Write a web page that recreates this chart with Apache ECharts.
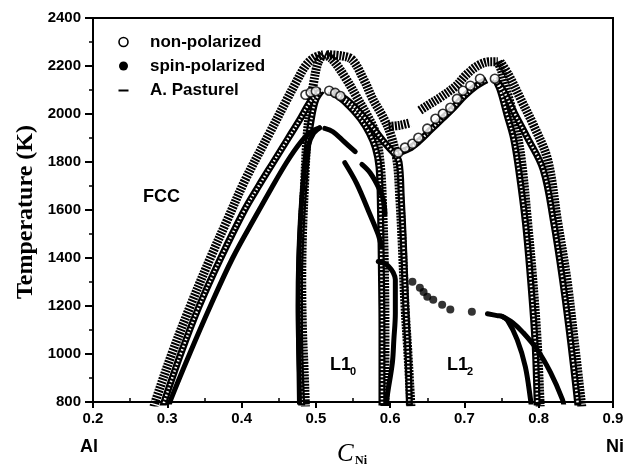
<!DOCTYPE html>
<html>
<head>
<meta charset="utf-8">
<script src="https://cdn.jsdelivr.net/npm/echarts@6/dist/echarts.min.js"></script>
<style>
html,body{margin:0;padding:0;background:#fff;}
#chart{width:634px;height:470px;}
</style>
</head>
<body>
<div id="chart"></div>
<script>
// ---- axis ranges / ticks ----
const xMin = 0.2, xMax = 0.9, xStep = 0.1;
const xMinorTicks = [0.25, 0.35, 0.45, 0.55, 0.65, 0.75, 0.85];
const yMin = 800, yMax = 2400, yStep = 200;

// ---- A. Pasturel (dashes) branches [C_Ni, T] ----
const P_outerLeft1 = [[0.282,780],[0.285,812],[0.306,1000],[0.331,1200],[0.358,1400],[0.381,1560],[0.405,1726],[0.438,1922],[0.461,2060],[0.473,2130],[0.486,2200],[0.498,2235],[0.510,2247]];
const P_innerLeft1 = [[0.510,2247],[0.503,2215],[0.497,2130],[0.492,2020],[0.488,1900],[0.485,1720],[0.482,1500],[0.481,1300],[0.482,1100],[0.484,950],[0.486,780]];
const P_innerRight1 = [[0.512,2247],[0.522,2228],[0.540,2150],[0.557,2060],[0.570,1990],[0.580,1922],[0.587,1781],[0.590,1600],[0.592,1400],[0.593,1100],[0.593,780]];
const P_outerRight1 = [[0.515,2247],[0.535,2242],[0.549,2226],[0.565,2140],[0.577,2060],[0.590,1990],[0.600,1922],[0.609,1810],[0.613,1650],[0.616,1476],[0.620,1200],[0.624,1000],[0.628,780]];
const P_stub = [[0.598,1948],[0.613,1953],[0.627,1963]];
const P_left2 = [[0.640,2015],[0.650,2035],[0.668,2070],[0.688,2115],[0.703,2165],[0.720,2205],[0.735,2218],[0.745,2218]];
const P_innerRight2 = [[0.745,2218],[0.750,2180],[0.755,2120],[0.762,2040],[0.769,1950],[0.777,1800],[0.785,1550],[0.792,1310],[0.798,1050],[0.802,780]];
const P_outerRight2 = [[0.748,2218],[0.760,2160],[0.776,2060],[0.792,1960],[0.812,1810],[0.825,1560],[0.838,1310],[0.848,1050],[0.858,780]];

// ---- non-polarized (open circles) branches ----
const N_outerLeft1 = [[0.294,780],[0.297,812],[0.318,1000],[0.343,1200],[0.372,1400],[0.404,1600],[0.423,1700],[0.443,1800],[0.463,1900],[0.479,1980],[0.490,2040],[0.500,2080],[0.508,2098]];
const N_innerLeft1 = [[0.508,2098],[0.500,2060],[0.494,1980],[0.489,1870],[0.484,1700],[0.480,1500],[0.478,1300],[0.478,1100],[0.479,950],[0.481,780]];
const N_innerRight1 = [[0.518,2097],[0.532,2070],[0.546,2030],[0.560,1980],[0.572,1920],[0.580,1860],[0.585,1780],[0.587,1600],[0.588,1400],[0.589,1100],[0.589,780]];
const N_outerRight1 = [[0.518,2097],[0.540,2062],[0.558,2010],[0.575,1950],[0.590,1890],[0.605,1838]];
const N_lowerLeft2 = [[0.605,1838],[0.612,1800],[0.615,1650],[0.618,1450],[0.621,1200],[0.624,1000],[0.626,780]];
const N_innerLeft2 = [[0.608,1836],[0.625,1855],[0.640,1890],[0.655,1935],[0.670,1980],[0.685,2025],[0.700,2075],[0.715,2115],[0.730,2142]];
const N_innerRight2 = [[0.741,2147],[0.748,2100],[0.757,2000],[0.766,1900],[0.773,1768],[0.782,1550],[0.789,1310],[0.795,1050],[0.798,780]];
const N_outerRight2 = [[0.741,2147],[0.752,2100],[0.768,2000],[0.785,1900],[0.806,1768],[0.820,1550],[0.832,1310],[0.843,1050],[0.853,780]];
const N_circles = [[0.486,2080],[0.493,2090],[0.500,2095],[0.518,2097],[0.526,2088],[0.533,2075],
  [0.611,1839],[0.620,1860],[0.630,1876],[0.638,1901],[0.650,1939],[0.661,1980],[0.671,2001],[0.681,2026],[0.690,2063],[0.698,2097],[0.708,2118],[0.721,2147],[0.741,2147]];

// ---- spin-polarized (filled dots) branches ----
const S_outerLeft1 = [[0.302,780],[0.305,812],[0.330,1000],[0.358,1200],[0.388,1400],[0.420,1580],[0.440,1690],[0.461,1800],[0.479,1880],[0.493,1925],[0.505,1942]];
const S_innerLeft1 = [[0.505,1942],[0.497,1920],[0.490,1870],[0.485,1780],[0.480,1600],[0.477,1400],[0.476,1200],[0.477,1000],[0.478,780]];
const S_rightA = [[0.512,1940],[0.523,1926],[0.538,1885],[0.553,1843]];
const S_rightB = [[0.562,1790],[0.573,1755],[0.585,1690],[0.591,1640],[0.593,1583]];
const S_rightC = [[0.539,1797],[0.555,1710],[0.573,1580],[0.584,1497],[0.588,1450]];
const S_bulge = [[0.584,1385],[0.592,1378],[0.598,1365],[0.604,1340],[0.607,1310],[0.607,1170],[0.605,1060],[0.603,964],[0.596,822],[0.595,780]];
const S_dots = [[0.630,1301],[0.640,1276],[0.645,1258],[0.650,1239],[0.658,1226],[0.670,1205],[0.681,1185],[0.710,1176]];
const S_right2a = [[0.731,1168],[0.744,1160],[0.751,1156],[0.758,1140],[0.771,1060],[0.782,947],[0.789,810],[0.790,780]];
const S_right2b = [[0.751,1156],[0.765,1130],[0.779,1089],[0.798,1018],[0.816,922],[0.832,810],[0.834,780]];

const NAME_N = 'non-polarized', NAME_S = 'spin-polarized', NAME_P = 'A. Pasturel';

function lineS(name, data, width, type, color, z) {
  return {
    type: 'line', name: name, data: data, smooth: 0.35, showSymbol: false, symbol: 'none',
    lineStyle: { color: color || '#000', width: width, type: type || 'solid', cap: 'butt' },
    itemStyle: { color: '#000' }, silent: true, animation: false, z: z || 2
  };
}

const series = [];
[P_outerLeft1, P_innerLeft1, P_innerRight1, P_outerRight1, P_stub, P_left2, P_innerRight2, P_outerRight2]
  .forEach(d => series.push(lineS(NAME_P, d, 9, [2, 1.1], '#000', 2)));
[N_outerLeft1, N_innerLeft1, N_innerRight1, N_outerRight1, N_lowerLeft2, N_innerLeft2, N_innerRight2, N_outerRight2]
  .forEach(d => {
    series.push(lineS(NAME_N, d, 7, 'solid', '#000', 3));
    series.push(lineS('np-core', d, 2.5, [1.5, 2.2], '#fff', 4));
  });
[S_outerLeft1, S_innerLeft1, S_rightA, S_rightB, S_rightC, S_bulge, S_right2a, S_right2b]
  .forEach(d => { const s = lineS(NAME_S, d, 5, 'solid', '#000', 5); s.lineStyle.cap = 'round'; series.push(s); });
series.push({ type: 'scatter', name: NAME_S, data: S_dots, symbol: 'circle', symbolSize: 8,
  itemStyle: { color: '#000' }, silent: true, animation: false, z: 6 });
series.push({ type: 'scatter', name: NAME_N, data: N_circles, symbol: 'circle', symbolSize: 9,
  itemStyle: { color: '#fff', borderColor: '#000', borderWidth: 1.6 }, silent: true, animation: false, z: 7 });

const chart = echarts.init(document.getElementById('chart'), null, { renderer: 'canvas' });
chart.setOption({
  backgroundColor: '#fff',
  animation: false,
  grid: { left: 93, right: 21, top: 18, bottom: 68, show: true, borderColor: '#000', borderWidth: 2,
          containLabel: false, outerBoundsMode: 'none' },
  legend: {
    left: 105, top: 27, orient: 'vertical', itemWidth: 27, itemHeight: 9, itemGap: 4,
    selectedMode: false,
    textStyle: { fontFamily: 'Arial, Liberation Sans', fontSize: 17, fontWeight: 'bold', color: '#000', lineHeight: 20, padding: [0,0,0,8] },
    data: [
      { name: NAME_N, icon: 'circle', itemStyle: { color: '#fff', borderColor: '#000', borderWidth: 1.6 } },
      { name: NAME_S, icon: 'circle', itemStyle: { color: '#000' } },
      { name: NAME_P, icon: 'path://M0,0L0.01,0L0.01,0.01Z M8.5,4H18.5V6H8.5Z M27,9L26.99,9L26.99,8.99Z', itemStyle: { color: '#000' } }
    ]
  },
  xAxis: [{
    type: 'value', min: xMin, max: xMax, interval: xStep,
    axisLine: { show: true, onZero: false, lineStyle: { color: '#000', width: 2 } },
    axisTick: { show: true, length: 6, lineStyle: { color: '#000', width: 2 } },
    axisLabel: { margin: 9, color: '#000', fontFamily: 'Arial, Liberation Sans', fontWeight: 'bold', fontSize: 15,
                 formatter: v => v.toFixed(1) },
    splitLine: { show: false }
  }, {
    type: 'value', min: xMin, max: xMax, position: 'bottom',
    axisLine: { show: false },
    axisTick: { show: true, inside: true, length: 4, customValues: xMinorTicks, lineStyle: { color: '#000', width: 1.5 } },
    axisLabel: { show: false }, splitLine: { show: false }
  }],
  yAxis: {
    type: 'value', min: yMin, max: yMax, interval: yStep,
    axisLine: { show: true, onZero: false, lineStyle: { color: '#000', width: 2 } },
    axisTick: { show: true, length: 8, lineStyle: { color: '#000', width: 2 } },
    minorTick: { show: true, splitNumber: 2, length: 4, lineStyle: { color: '#000', width: 1.5 } },
    axisLabel: { margin: 12, color: '#000', fontFamily: 'Arial, Liberation Sans', fontWeight: 'bold', fontSize: 15,
                 formatter: v => String(v) },
    splitLine: { show: false }
  },
  graphic: [
    { type: 'text', x: 14, y: 299, rotation: Math.PI / 2, style: { text: 'Temperature (K)', fill: '#000',
      font: 'bold 24px "Liberation Serif", "Times New Roman", serif' }, z: 10 },
    { type: 'text', x: 143, y: 188, style: { text: 'FCC', fill: '#000', font: 'bold 18px Arial, "Liberation Sans"' }, z: 10 },
    { type: 'text', x: 330, y: 356, style: { text: 'L1', fill: '#000', font: 'bold 18px Arial, "Liberation Sans"' }, z: 10 },
    { type: 'text', x: 350, y: 366, style: { text: '0', fill: '#000', font: 'bold 11px Arial, "Liberation Sans"' }, z: 10 },
    { type: 'text', x: 447, y: 356, style: { text: 'L1', fill: '#000', font: 'bold 18px Arial, "Liberation Sans"' }, z: 10 },
    { type: 'text', x: 467, y: 366, style: { text: '2', fill: '#000', font: 'bold 11px Arial, "Liberation Sans"' }, z: 10 },
    { type: 'text', x: 80, y: 438, style: { text: 'Al', fill: '#000', font: 'bold 18px Arial, "Liberation Sans"' }, z: 10 },
    { type: 'text', x: 606, y: 438, style: { text: 'Ni', fill: '#000', font: 'bold 18px Arial, "Liberation Sans"' }, z: 10 },
    { type: 'text', x: 337, y: 442, style: { text: 'C', fill: '#000', font: 'italic 25px "Liberation Serif", "Times New Roman", serif' }, z: 10 },
    { type: 'text', x: 355, y: 455, style: { text: 'Ni', fill: '#000', font: 'bold 12px "Liberation Serif", "Times New Roman", serif' }, z: 10 }
  ],
  series: series
});
</script>
</body>
</html>
